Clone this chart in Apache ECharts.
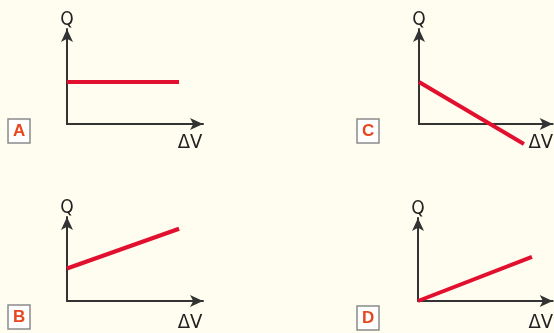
<!DOCTYPE html>
<html>
<head>
<meta charset="utf-8">
<script src="https://cdn.jsdelivr.net/npm/echarts@6/dist/echarts.min.js"></script>
<style>
  html, body { margin: 0; padding: 0; background: #fffdf0; }
  #chart { width: 554px; height: 333px; }
</style>
</head>
<body>
<div id="chart"></div>
<script>
// Q against deltaV, four sketches (values in arbitrary units, axes 0..10)
var lineA = [[0, 4.42], [8.24, 4.42]];
var lineB = [[0, 3.87], [8.24, 8.6]];
var lineC = [[0, 4.42], [7.85, -2.1]];
var lineD = [[0, 0], [8.46, 5.32]];
var letters = ['A', 'B', 'C', 'D'];
var yName = 'Q';
var xName = 'ΔV';

var myChart = echarts.init(document.getElementById('chart'));

var font = "'Liberation Sans Narrow', 'DejaVu Sans Condensed', sans-serif";
var axisColor = '#333333';
var red = '#e2102f';

// grid boxes for A, B, C, D
var grids = [
    { left: 67, top: 29, width: 136, height: 95 },
    { left: 67, top: 217, width: 136, height: 93 },
    { left: 419, top: 29, width: 135, height: 95 },
    { left: 418, top: 218, width: 136, height: 94 }
];
// letter box positions
var boxes = [
    { left: 8, top: 120 },
    { left: 8, top: 306 },
    { left: 357, top: 120 },
    { left: 357, top: 307 }
];
var nameGaps = [-13, -13, -12, -12];
var namePads = [9, 12, 9, 12];
var lines = [lineA, lineB, lineC, lineD];

var xAxes = [], yAxes = [], series = [], titles = [];

for (var i = 0; i < 4; i++) {
    xAxes.push({
        type: 'value',
        gridIndex: i,
        min: 0,
        max: 10,
        name: xName,
        nameLocation: 'end',
        nameGap: nameGaps[i],
        nameTextStyle: {
            fontFamily: font,
            fontSize: 20,
            color: '#222',
            align: 'center',
            verticalAlign: 'top',
            padding: [namePads[i], 0, 0, 0]
        },
        axisLine: {
            onZero: false,
            symbol: ['none', 'arrow'],
            symbolSize: [9, 13],
            lineStyle: { color: axisColor, width: 2 }
        },
        axisTick: { show: false },
        axisLabel: { show: false },
        splitLine: { show: false }
    });
    yAxes.push({
        type: 'value',
        gridIndex: i,
        min: 0,
        max: 10,
        name: yName,
        nameLocation: 'end',
        nameGap: -1,
        nameTextStyle: {
            fontFamily: font,
            fontSize: 19,
            color: '#222'
        },
        axisLine: {
            show: true,
            onZero: false,
            symbol: ['none', 'arrow'],
            symbolSize: [9, 13],
            lineStyle: { color: axisColor, width: 2 }
        },
        axisTick: { show: false },
        axisLabel: { show: false },
        splitLine: { show: false }
    });
    series.push({
        type: 'line',
        xAxisIndex: i,
        yAxisIndex: i,
        data: lines[i],
        clip: false,
        symbol: 'none',
        lineStyle: { color: red, width: 4 }
    });
    titles.push({
        text: letters[i],
        left: boxes[i].left,
        top: boxes[i].top,
        padding: [4, 5, 3, 5],
        backgroundColor: '#ffffff',
        borderColor: '#8a8a8a',
        borderWidth: 1.5,
        textStyle: {
            fontFamily: 'Liberation Sans, Arial, sans-serif',
            fontWeight: 'bold',
            fontSize: 17,
            lineHeight: 15,
            color: '#e8461e'
        }
    });
}

var option = {
    backgroundColor: '#fffdf0',
    animation: false,
    title: titles,
    grid: grids,
    xAxis: xAxes,
    yAxis: yAxes,
    series: series
};

myChart.setOption(option);
</script>
</body>
</html>
